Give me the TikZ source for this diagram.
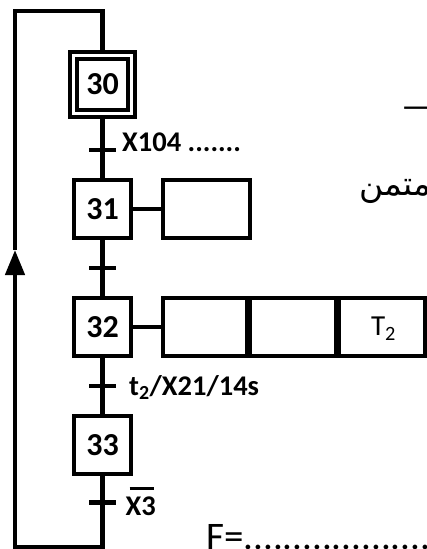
\documentclass[tikz,border=0pt]{standalone}
\usepackage{fontspec}
\setmainfont{Carlito}
\newfontfamily\arabicfont[Script=Arabic]{DejaVu Sans}
\TeXXeTstate=1
\usetikzlibrary{arrows.meta}
\pgfdeclarelayer{bg}
\pgfsetlayers{bg,main}
\begin{document}
\begin{tikzpicture}[x=1pt,y=-1pt,
  stepbox/.style={draw,line width=4pt,fill=white,minimum width=57pt,minimum height=57.5pt,inner sep=0pt,font=\fontsize{32}{38}\selectfont\bfseries},
  initstep/.style={stepbox,double,double distance=2.6pt,minimum width=58pt,minimum height=58pt},
  actbox/.style={draw,line width=4pt,fill=white,minimum height=58pt,inner sep=0pt},
  link/.style={line width=5.5pt},
  actlink/.style={line width=4.3pt},
  loopline/.style={line width=4.5pt,line join=miter},
  trbar/.style={fill=black,minimum width=27pt,minimum height=4.5pt,inner sep=0pt},
  trlabel/.style={anchor=base west,inner sep=0pt,font=\fontsize{28.5}{34}\selectfont\bfseries},
  plain/.style={inner sep=0pt,font=\fontsize{29}{34}\selectfont}]
\useasboundingbox (0,0) rectangle (427,549);
% steps
\node[initstep] (s30) at (102.7,84.5) {30};
\node[stepbox] (s31) at (102.7,208.75) {31};
\node[stepbox,minimum height=58pt] (s32) at (102.7,327) {32};
\node[stepbox,minimum height=58.5pt] (s33) at (102.7,444.75) {33};
% actions
\node[actbox,minimum width=87pt,minimum height=57.5pt] (a31) at (206,208.75) {};
\node[actbox,minimum width=84.5pt] (a32a) at (204.75,327) {};
\node[actbox,minimum width=86pt] (a32b) at (293,327) {};
\node[actbox,minimum width=86pt] (a32c) at (382,327) {};
\node[plain,anchor=base] (t2txt) at (383.5,335.5) {T\textsubscript{2}};
% transitions
\node[trbar] (t1) at (102,150) {};
\node[trbar] (t2) at (102,268) {};
\node[trbar] (t3) at (102,386) {};
\node[trbar] (t4) at (102,502.5) {};
\node[trlabel] (l1) at (122,151) {X104 .......};
\node[trlabel] (l2) at (129,395) {t\textsubscript{2}/X21/14s};
\node[trlabel] (l3) at (125.5,515) {\rlap{\hspace{4pt}\rule[25pt]{24pt}{3.4pt}}X3};
% loop coordinates
\coordinate (lt) at (15,11);
\coordinate (lb) at (15,547);
\coordinate (tip) at (15,250);
% other texts
\node[plain,anchor=base west,font=\fontsize{39}{46}\selectfont] (fline) at (206,549) {F=.......................};
\node[plain,anchor=base west,font=\fontsize{37}{44}\selectfont] (dash) at (401,118) {—};
\node[plain,anchor=base west,font=\arabicfont\fontsize{33}{40}\selectfont] (ar) at (359,195) {\beginR متمن\endR};
\begin{pgfonlayer}{bg}
\draw[link] (s30) -- (s31) (s31) -- (s32) (s32) -- (s33);
\draw[link] (s33.center) -- (s33 |- lb);
\draw[actlink] (s31) -- (a31) (s32) -- (a32a);
\draw[loopline,-{Triangle[length=25pt,width=19pt]}] (s33.center) -- (s33 |- lb) -- (lb) -- (tip);
\draw[loopline] (tip) -- (lt) -- (lt -| s30) -- (s30.center);
\end{pgfonlayer}
\end{tikzpicture}
\end{document}
